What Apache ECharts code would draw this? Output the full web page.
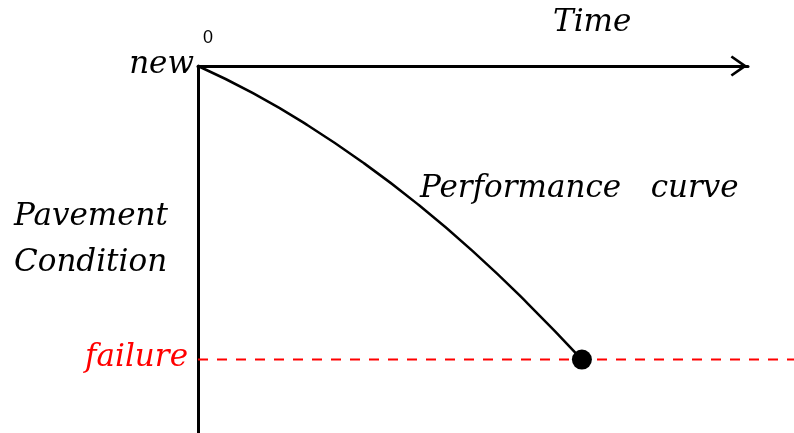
<!DOCTYPE html>
<html>
<head>
    <meta charset="utf-8">
    <title>Performance curve</title>
    <script src="https://cdn.jsdelivr.net/npm/echarts@6/dist/echarts.min.js"></script>
    <style>
        html, body { margin: 0; padding: 0; background: #fff; }
        #chart { width: 794px; height: 433px; }
    </style>
</head>
<body>
<div id="chart"></div>
<script>
    // performance curve points (time, condition)
    var curveTime = [0, 10, 20, 30, 40, 50, 60, 69.8];
    var curveCond = [100, 92.6, 83.8, 73.7, 62.3, 49.5, 35.2, 20];
    // failure level and the failure point
    var failureLevel = 20;
    var failureLine = [[0, failureLevel], [108.4, failureLevel]];
    var failurePoint = [[69.8, 20]];

    var curveData = [];
    for (var i = 0; i < curveTime.length; i++) {
        curveData.push([curveTime[i], curveCond[i]]);
    }

    var font = 'italic 31px "DejaVu Serif"';
    var myChart = echarts.init(document.getElementById('chart'));

    var hiddenAxis = {
        show: false, type: 'value', min: 0
    };

    var option = {
        animation: false,
        backgroundColor: '#fff',
        grid: [
            {left: 198, top: 66, right: 46, bottom: 0},
            // wider grid, same scale, for the failure line that runs to the edge
            {left: 198, top: 66, right: 0, bottom: 0}
        ],
        xAxis: [{
            type: 'value',
            gridIndex: 0,
            position: 'top',
            min: 0,
            max: 100,
            axisLine: {
                show: true,
                onZero: false,
                symbol: ['none', 'path://M10 0 L20 14.5 L18 16 L10 4.5 L2 16 L0 14.5 Z'],
                symbolSize: [21, 18],
                symbolOffset: [0, -9],
                lineStyle: {color: '#000', width: 3}
            },
            axisTick: {show: false},
            axisLabel: {show: false},
            splitLine: {show: false}
        }, Object.assign({}, hiddenAxis, {gridIndex: 1, max: 108.4})],
        yAxis: [{
            type: 'value',
            gridIndex: 0,
            min: 0,
            max: 100,
            axisLine: {show: true, onZero: false, lineStyle: {color: '#000', width: 3}},
            axisTick: {show: false},
            axisLabel: {show: false},
            splitLine: {show: false}
        }, Object.assign({}, hiddenAxis, {gridIndex: 1, max: 100})],
        series: [
            {
                name: 'failure',
                type: 'line',
                xAxisIndex: 1,
                yAxisIndex: 1,
                data: failureLine,
                symbol: 'none',
                lineStyle: {color: '#ff0000', width: 2, type: [10, 9]},
                z: 1
            },
            {
                name: 'Performance curve',
                type: 'line',
                data: curveData,
                smooth: true,
                symbol: 'none',
                lineStyle: {color: '#000', width: 2.5},
                z: 2
            },
            {
                name: 'end',
                type: 'scatter',
                data: failurePoint,
                symbol: 'circle',
                symbolSize: 20,
                itemStyle: {color: '#000', opacity: 1},
                z: 3
            }
        ],
        graphic: [
            {type: 'text', left: 203, top: 29,
                style: {text: '0', font: '18px "Liberation Sans"', fill: '#000'}},
            {type: 'text', right: 600, top: 49,
                style: {text: 'new', font: font, fill: '#000'}},
            {type: 'text', left: 553, top: 7,
                style: {text: 'Time', font: font, fill: '#000'}},
            {type: 'text', left: 420, top: 173,
                style: {text: 'Performance   curve', font: font, fill: '#000'}},
            {type: 'text', left: 14, top: 194,
                style: {text: 'Pavement\nCondition', font: font, lineHeight: 46, fill: '#000'}},
            {type: 'text', right: 606, top: 342,
                style: {text: 'failure', font: font, fill: '#ff0000'}}
        ]
    };
    myChart.setOption(option);
</script>
</body>
</html>
